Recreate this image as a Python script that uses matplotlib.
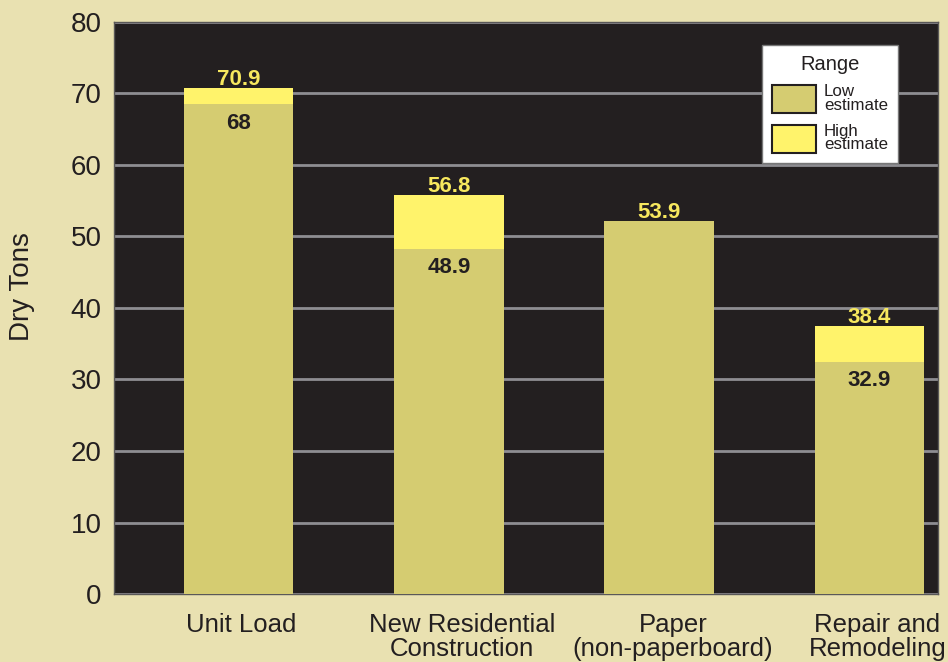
import matplotlib.pyplot as plt
import matplotlib.transforms as mtransforms
from matplotlib.patches import Patch

# Data
categories = ['Unit Load', 'New Residential\nConstruction', 'Paper\n(non-paperboard)', 'Repair and\nRemodeling']
low_height = [68.5, 48.3, 52.1, 32.5]      # drawn height of low part
high_height = [70.8, 55.75, 52.1, 37.5]    # drawn height of the full bar
high_labels = ['70.9', '56.8', '53.9', '38.4']
low_labels = ['68', '48.9', '', '32.9']

# Colours
bg = '#E9E1B1'
plot_bg = '#231F20'
low_col = '#D5CC71'
high_col = '#FFF36B'
label_yellow = '#F7E85E'
text_dark = '#231F20'

plt.rcParams['font.family'] = ['Liberation Sans', 'DejaVu Sans']

fig = plt.figure(figsize=(9.48, 6.62), dpi=100, facecolor=bg)
ax = fig.add_axes([0.1203, 0.1027, 0.8692, 0.8641])
ax.set_facecolor(plot_bg)

x = list(range(len(categories)))
width = 0.52

# high part first (full height), low part over it
ax.bar(x, high_height, width, color=high_col, zorder=3, linewidth=0)
ax.bar(x, low_height, width, color=low_col, zorder=4, linewidth=0)

# value labels
for i in x:
    ax.annotate(high_labels[i], (i, high_height[i]), xytext=(0, 6.3), textcoords='offset points',
                ha='center', va='center', fontsize=16, fontweight='bold', color=label_yellow, zorder=5)
    if low_labels[i]:
        ax.annotate(low_labels[i], (i, low_height[i]), xytext=(0, -13.8), textcoords='offset points',
                    ha='center', va='center', fontsize=16, fontweight='bold', color=text_dark, zorder=5)

ax.set_xlim(-0.592, 3.326)
ax.set_ylim(0, 80)
ax.set_yticks(range(0, 81, 10))
ax.set_xticks(x)
ax.set_xticklabels(categories, fontsize=18.5, color=text_dark, linespacing=0.98)
ax.tick_params(axis='y', labelsize=20, colors=text_dark, length=0, pad=9)
ax.tick_params(axis='x', length=0, pad=14)

# the category labels sit slightly right of the bar centres in the original
shifts_px = [2.5, 13, 14, 8]
for lab, dx in zip(ax.get_xticklabels(), shifts_px):
    lab.set_transform(lab.get_transform() + mtransforms.ScaledTranslation(dx / 100, 0, fig.dpi_scale_trans))

ax.yaxis.grid(True, color='#8E8D92', linewidth=2, zorder=1)
ax.set_axisbelow(True)

for spine in ax.spines.values():
    spine.set_color('#5A5858')
    spine.set_linewidth(1)

ax.set_ylabel('Dry Tons', fontsize=20, color=text_dark)
ax.yaxis.set_label_coords(-0.096, 0.538)

# legend
handles = [Patch(facecolor=low_col, edgecolor=text_dark, linewidth=1.5),
           Patch(facecolor=high_col, edgecolor=text_dark, linewidth=1.5)]
leg = ax.legend(handles, ['Low\nestimate', 'High\nestimate'], title='Range',
                loc='upper right', bbox_to_anchor=(0.9515, 0.96), fontsize=12.2,
                title_fontsize=14.5, frameon=True, fancybox=False, framealpha=1,
                facecolor='white', edgecolor='#777777', handlelength=2.6,
                handleheight=2.2, handletextpad=0.45, labelspacing=0.6,
                borderpad=0.6, borderaxespad=0)
leg.get_frame().set_linewidth(1)
for t in leg.get_texts():
    t.set_linespacing(0.9)
    t.set_color(text_dark)
leg.get_title().set_color(text_dark)
leg.set_zorder(6)

fig.savefig('out.png', dpi=100, facecolor=bg)
